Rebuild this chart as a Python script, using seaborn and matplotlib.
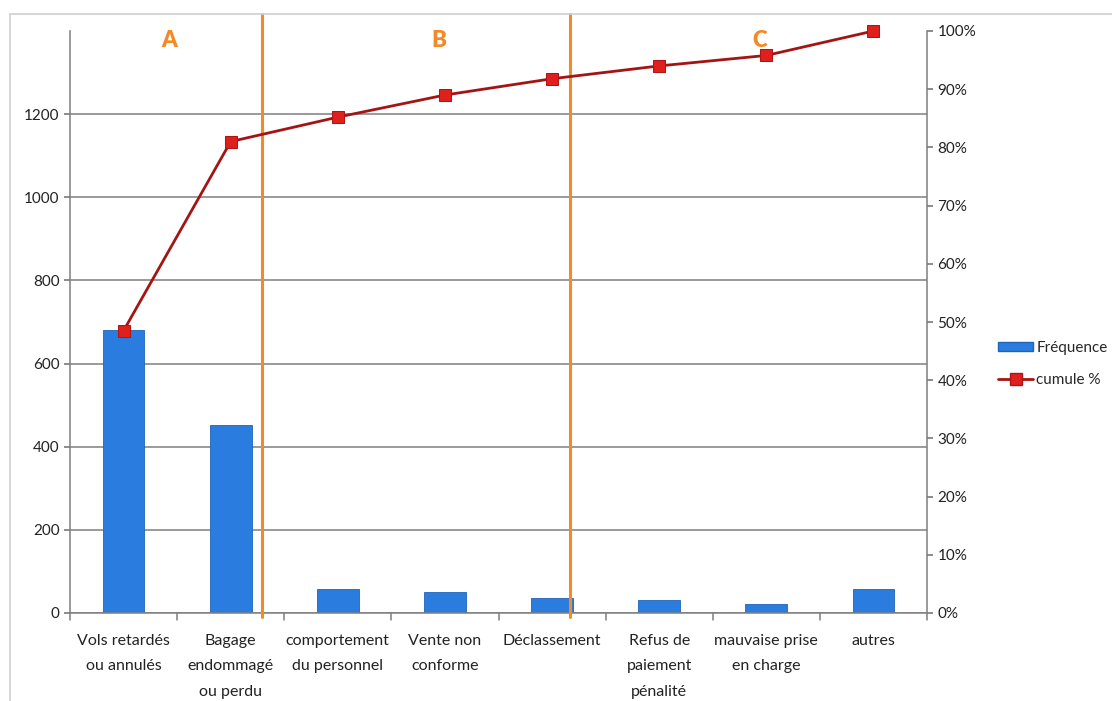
import numpy as np
import pandas as pd
import matplotlib.pyplot as plt
import seaborn as sns
from matplotlib.patches import Rectangle
from matplotlib.ticker import PercentFormatter

# data
categories = ['Vols retardés\nou annulés', 'Bagage\nendommagé\nou perdu',
              'comportement\ndu personnel', 'Vente non\nconforme', 'Déclassement',
              'Refus de\npaiement\npénalité', 'mauvaise prise\nen charge', 'autres']
frequence = [680, 453, 58, 51, 36, 31, 22, 58]
cumule = [48.5, 81, 85.2, 89, 91.8, 94, 95.8, 100]
zones = ['A', 'B', 'C']
zone_x = [0.43, 2.94, 5.94]
separators = [1.29, 4.17]

sns.set_theme(style='white')
plt.rcParams['font.family'] = ['Lato', 'DejaVu Sans']

blue = '#2a7ddf'
dark_red = '#a31515'
orange = '#f28a26'
grid_c = '#7f7f7f'

df = pd.DataFrame({'cat': categories, 'freq': frequence, 'cum': cumule})

fig = plt.figure(figsize=(11.12, 7.01), dpi=100)
fig.patches.append(Rectangle((10/1112, -0.1), 1.2, 1 - 14/701 + 0.1,
                             transform=fig.transFigure, fill=False,
                             edgecolor='#d0d0d0', linewidth=1.2))
ax = fig.add_axes([70/1112, 1 - 613/701, 857/1112, 582/701])

sns.barplot(data=df, x='cat', y='freq', color=blue, width=0.39,
            edgecolor='#1f64b8', linewidth=0.6, saturation=1, ax=ax, zorder=2)
ax.set_ylim(0, 1400)
ax.set_xlim(-0.5, 7.5)
ax.set_yticks(range(0, 1201, 200))
ax.yaxis.grid(True, color=grid_c, linewidth=1.1)
ax.set_axisbelow(True)
ax.set_xlabel('')
ax.set_ylabel('')
ax.tick_params(axis='both', labelsize=11, colors='#222222', length=4,
               direction='out', left=True, bottom=False)
ax.tick_params(axis='y', color=grid_c)
ax.tick_params(axis='x', pad=11, labelsize=11.5)
for sp in ['top', 'right']:
    ax.spines[sp].set_visible(False)
for sp in ['left', 'bottom']:
    ax.spines[sp].set_color(grid_c)
    ax.spines[sp].set_linewidth(1.1)
ax.set_xticks(range(len(categories)))
ax.set_xticklabels(categories)
for t in ax.get_xticklabels():
    t.set_linespacing(2.05)
# category boundary ticks like Excel
for b in np.arange(-0.5, 8, 1):
    ax.plot([b, b], [0, -0.012], color=grid_c, lw=1.1, clip_on=False,
            transform=ax.get_xaxis_transform())

ax2 = ax.twinx()
sns.lineplot(x=np.arange(len(cumule)), y=cumule, ax=ax2, color=dark_red,
             linewidth=2, marker='s', markersize=9, markerfacecolor='#e0201c',
             markeredgecolor='#b01515', zorder=5, clip_on=False)
ax2.set_ylim(0, 100)
ax2.set_yticks(range(0, 101, 10))
ax2.yaxis.set_major_formatter(PercentFormatter(decimals=0))
ax2.tick_params(axis='y', labelsize=11, colors='#222222', length=4, color=grid_c,
                direction='out', right=True)
for sp in ['top', 'left', 'bottom']:
    ax2.spines[sp].set_visible(False)
ax2.spines['right'].set_color(grid_c)
ax2.spines['right'].set_linewidth(1.1)
ax2.set_xlim(-0.5, 7.5)

for s in separators:
    ax2.axvline(s, ymin=-0.007, ymax=1.03, color=orange, lw=2.2,
                clip_on=False, zorder=4)
for z, zx in zip(zones, zone_x):
    ax2.text(zx, 98.3, z, color=orange, fontsize=16, fontweight='heavy',
             ha='center', va='center')

bar_h = Rectangle((0, 0), 1, 1, facecolor=blue, edgecolor='#1f64b8')
line_h = plt.Line2D([], [], color=dark_red, lw=2, marker='s', markersize=8,
                    markerfacecolor='#e0201c', markeredgecolor='#b01515')
fig.legend([bar_h, line_h], ['Fréquence', 'cumule %'], loc='center left',
           bbox_to_anchor=(998/1112, 1 - 364/701), frameon=False, fontsize=11,
           handlelength=2.3, handleheight=0.5, labelspacing=1.2,
           handletextpad=0.2, borderpad=0, borderaxespad=0)

fig.savefig('out.png', dpi=100)
